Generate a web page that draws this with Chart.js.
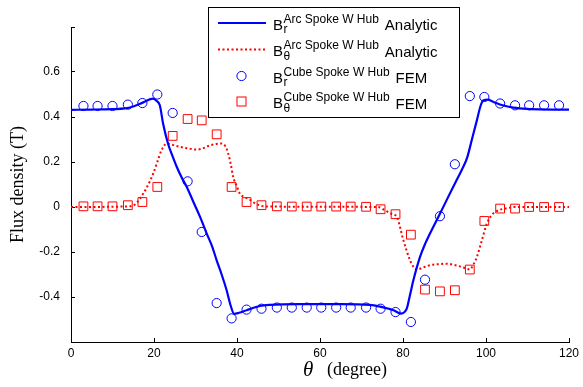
<!DOCTYPE html>
<html>
<head>
<meta charset="utf-8">
<script src="https://cdn.jsdelivr.net/npm/chart.js@4/dist/chart.umd.min.js"></script>
<style>
	html, body { margin: 0; padding: 0; background: #fff; }
	#wrap { width: 583px; height: 387px; }
</style>
</head>
<body>
<div id="wrap"><canvas id="fluxChart" width="583" height="387"></canvas></div>
<script>
// analytic B_r (solid blue)
const brLineTheta = [0, 5, 10, 13, 15, 17.4, 19.8, 20.6, 21.4, 22.2, 23.4, 24.5, 25.5, 26.7, 27.9, 29.5, 31.1, 32.7, 34.0, 35.1, 36.3, 37.5, 38.5, 39.3, 40.5, 42.3, 45.5, 48, 55, 65, 72, 74.5, 77.7, 79.5, 80.3, 80.9, 81.7, 82.5, 84.1, 85.3, 86.5, 88.9, 90.9, 92.9, 94.3, 95.5, 96.6, 97.8, 98.7, 99.4, 100.4, 101.8, 104, 106.6, 110, 113, 120];
const brLineValues = [0.432, 0.433, 0.435, 0.438, 0.447, 0.465, 0.482, 0.472, 0.452, 0.37, 0.28, 0.225, 0.178, 0.13, 0.089, 0.022, -0.044, -0.118, -0.175, -0.237, -0.30, -0.37, -0.44, -0.475, -0.47, -0.459, -0.44, -0.435, -0.432, -0.432, -0.435, -0.443, -0.459, -0.474, -0.468, -0.452, -0.39, -0.326, -0.222, -0.165, -0.118, -0.03, 0.045, 0.119, 0.17, 0.222, 0.30, 0.385, 0.45, 0.474, 0.477, 0.467, 0.452, 0.442, 0.436, 0.434, 0.433];

// analytic B_theta (dotted red)
const btLineTheta = [0, 14, 15.5, 16.6, 18.2, 19.8, 20.8, 21.8, 23.1, 24.7, 26.3, 28.3, 30.3, 32.0, 33.5, 35.0, 36.3, 37.2, 37.9, 38.5, 39.1, 40.0, 40.7, 41.7, 42.7, 44.5, 47, 74, 75.7, 77.2, 78.5, 80.1, 81.7, 82.5, 83.3, 84.7, 86.5, 88.5, 90.5, 92.2, 93.7, 95.0, 96.1, 97.0, 97.8, 99.0, 100.2, 101.2, 102.2, 103.4, 104.6, 107, 120];
const btLineValues = [0, 0.003, 0.012, 0.037, 0.085, 0.148, 0.2, 0.252, 0.282, 0.275, 0.267, 0.26, 0.255, 0.262, 0.274, 0.28, 0.282, 0.27, 0.237, 0.19, 0.133, 0.09, 0.059, 0.045, 0.037, 0.015, 0.002, 0, -0.015, -0.03, -0.044, -0.148, -0.237, -0.265, -0.278, -0.27, -0.259, -0.254, -0.252, -0.257, -0.264, -0.272, -0.278, -0.255, -0.222, -0.148, -0.074, -0.04, -0.022, -0.012, -0.007, 0, 0];

// FEM samples, shared angles
const femTheta = [3.0, 6.4, 10.0, 13.7, 17.2, 20.8, 24.5, 28.1, 31.5, 35.1, 38.7, 42.3, 45.9, 49.6, 53.2, 56.8, 60.3, 63.9, 67.4, 71.1, 74.6, 78.2, 81.9, 85.3, 88.9, 92.5, 96.1, 99.6, 103.4, 107.0, 110.4, 114.0, 117.6];
const brFem = [0.449, 0.449, 0.449, 0.455, 0.462, 0.5, 0.418, 0.114, -0.111, -0.427, -0.495, -0.456, -0.452, -0.447, -0.447, -0.447, -0.447, -0.447, -0.447, -0.447, -0.452, -0.467, -0.511, -0.323, -0.041, 0.19, 0.493, 0.489, 0.46, 0.452, 0.452, 0.452, 0.452];
const btFem = [0.003, 0.003, 0.003, 0.008, 0.022, 0.089, 0.316, 0.391, 0.385, 0.323, 0.089, 0.022, 0.008, 0.003, 0.002, 0.002, 0.002, 0.002, 0.002, 0.001, -0.01, -0.032, -0.123, -0.367, -0.375, -0.37, -0.278, -0.062, -0.007, -0.007, 0, 0, 0];

const xTicks = [0, 20, 40, 60, 80, 100, 120];
const yTickLabels = [-0.4, -0.2, 0, 0.2, 0.4, 0.6];

const legendSup = ['Arc Spoke W Hub', 'Arc Spoke W Hub', 'Cube Spoke W Hub', 'Cube Spoke W Hub'];
const legendSub = ['r', '\u03b8', 'r', '\u03b8'];
const legendTail = ['Analytic', 'Analytic', 'FEM', 'FEM'];

const BLUE = '#0000ff';
const RED = '#ff0000';
const SANS = '"Liberation Sans", Arial, sans-serif';
const SERIF = '"Liberation Serif", "Times New Roman", serif';

const toPoints = (xs, ys) => xs.map((x, i) => ({ x, y: ys[i] }));

const datasets = [
	{
		label: 'Br analytic',
		data: toPoints(brLineTheta, brLineValues),
		showLine: true,
		borderColor: BLUE,
		borderWidth: 2.2,
		pointRadius: 0,
		cubicInterpolationMode: 'monotone',
		legendKind: 'line',
	},
	{
		label: 'Btheta analytic',
		data: toPoints(btLineTheta, btLineValues),
		showLine: true,
		borderColor: RED,
		borderWidth: 2,
		borderDash: [2, 2.5],
		pointRadius: 0,
		cubicInterpolationMode: 'monotone',
		legendKind: 'line',
	},
	{
		label: 'Br FEM',
		data: toPoints(femTheta, brFem),
		showLine: false,
		pointStyle: 'circle',
		pointRadius: 4.6,
		borderColor: BLUE,
		backgroundColor: 'rgba(0,0,0,0)',
		pointBorderWidth: 1,
		legendKind: 'circle',
	},
	{
		label: 'Btheta FEM',
		data: toPoints(femTheta, btFem),
		showLine: false,
		pointStyle: 'rect',
		pointRadius: 6.2,
		borderColor: RED,
		backgroundColor: 'rgba(0,0,0,0)',
		pointBorderWidth: 1,
		legendKind: 'rect',
	},
];

// legend with super/subscripts plus axis titles, drawn by hand
const annotations = {
	id: 'annotations',
	afterDraw(chart) {
		const ctx = chart.ctx;
		const area = chart.chartArea;
		ctx.save();

		// legend box
		ctx.fillStyle = '#fff';
		ctx.fillRect(208, 7, 251, 110);
		ctx.strokeStyle = '#000';
		ctx.lineWidth = 1;
		ctx.strokeRect(208.5, 7.5, 251, 110);

		const rows = [23, 49.5, 76, 101.5];
		datasets.forEach((ds, i) => {
			const cy = rows[i];
			ctx.strokeStyle = ds.borderColor;
			if (ds.legendKind === 'line') {
				ctx.lineWidth = ds.borderWidth;
				ctx.setLineDash(ds.borderDash || []);
				ctx.beginPath();
				ctx.moveTo(218, cy);
				ctx.lineTo(266, cy);
				ctx.stroke();
				ctx.setLineDash([]);
			} else if (ds.legendKind === 'circle') {
				ctx.lineWidth = 1;
				ctx.beginPath();
				ctx.arc(241.5, cy, 4.6, 0, Math.PI * 2);
				ctx.stroke();
			} else {
				ctx.lineWidth = 1;
				ctx.strokeRect(237, cy - 4.5, 9, 9);
			}

			ctx.fillStyle = '#000';
			ctx.textBaseline = 'alphabetic';
			ctx.textAlign = 'left';
			ctx.font = '15px ' + SANS;
			ctx.fillText('B', 273, cy + 6.5);
			ctx.font = '12px ' + SANS;
			ctx.fillText(legendSup[i], 283.5, cy - 0.5);
			const w = ctx.measureText(legendSup[i]).width;
			ctx.fillText(legendSub[i], 283.5, cy + 10);
			ctx.font = '15px ' + SANS;
			ctx.fillText(legendTail[i], 283.5 + w + 6, cy + 7);
		});

		// x title: italic theta + (degree)
		ctx.fillStyle = '#000';
		ctx.textBaseline = 'alphabetic';
		ctx.textAlign = 'left';
		ctx.font = 'italic 21px ' + SERIF;
		ctx.fillText('\u03b8', 303, 376);
		ctx.font = '18px ' + SERIF;
		ctx.fillText('(degree)', 327, 375);

		// y title
		ctx.translate(18.5, (area.top + area.bottom) / 2);
		ctx.rotate(-Math.PI / 2);
		ctx.textAlign = 'center';
		ctx.textBaseline = 'middle';
		ctx.font = '18px ' + SERIF;
		ctx.fillText('Flux density (T)', 0, 0);
		ctx.restore();
	},
};

new Chart(document.getElementById('fluxChart'), {
	type: 'scatter',
	data: { datasets },
	options: {
		responsive: false,
		animation: false,
		devicePixelRatio: 1,
		layout: { padding: { top: 27, right: 14, left: 0, bottom: 0 } },
		plugins: { legend: { display: false }, tooltip: { enabled: false } },
		scales: {
			x: {
				type: 'linear',
				min: 0,
				max: 120,
				afterFit: (scale) => {
					scale.height = 45;
					scale.paddingLeft = 0;
					scale.paddingRight = 0;
				},
				afterBuildTicks: (scale) => { scale.ticks = xTicks.map((v) => ({ value: v })); },
				ticks: {
					color: '#000',
					font: { family: SANS, size: 12 },
					padding: 8,
					maxRotation: 0,
					callback: (v) => String(v),
				},
				grid: { drawOnChartArea: false, drawTicks: true, tickLength: -4, color: '#000', lineWidth: 1 },
				border: { display: true, color: '#000', width: 1 },
			},
			y: {
				type: 'linear',
				min: -0.6,
				max: 0.8,
				afterFit: (scale) => {
					scale.width = 71;
					scale.paddingTop = 0;
					scale.paddingBottom = 0;
				},
				ticks: {
					stepSize: 0.2,
					color: '#000',
					font: { family: SANS, size: 12 },
					padding: 15,
					callback: (v) => {
						const shown = yTickLabels.find((t) => Math.abs(t - v) < 1e-6);
						if (shown === undefined) return '';
						return shown === 0 ? '0' : shown.toFixed(1);
					},
				},
				grid: { drawOnChartArea: false, drawTicks: true, tickLength: -4, color: '#000', lineWidth: 1 },
				border: { display: true, color: '#000', width: 1 },
			},
		},
	},
	plugins: [annotations],
});
</script>
</body>
</html>
